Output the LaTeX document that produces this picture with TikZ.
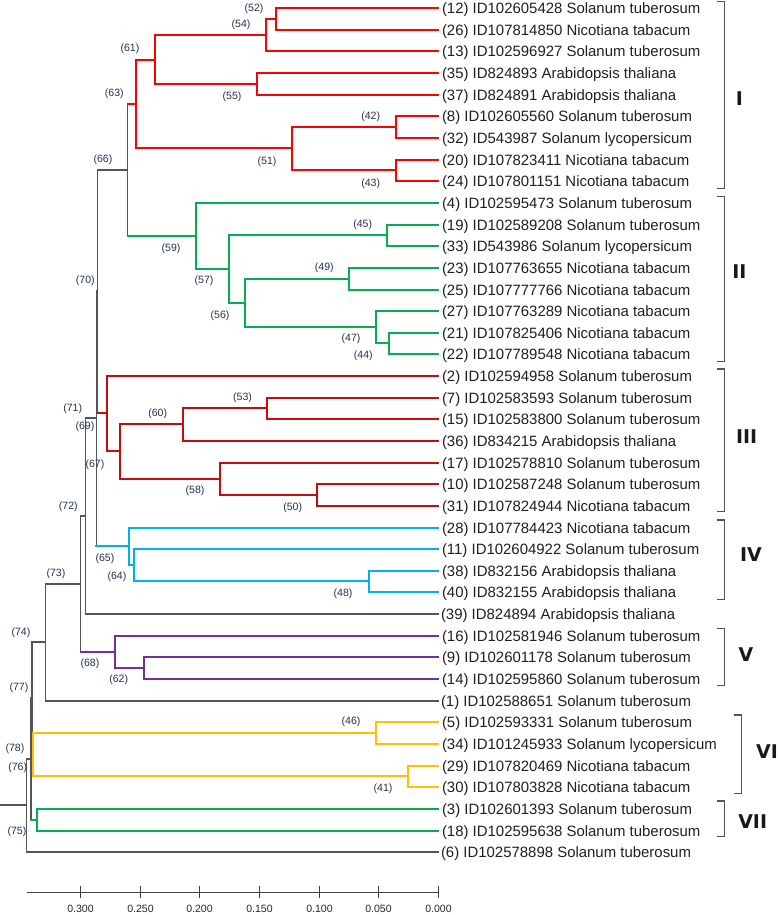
\documentclass[tikz,border=0pt]{standalone}
\usepackage{fontspec}
\setmainfont{Liberation Sans}
\newfontfamily\romfont{DejaVu Sans}
\definecolor{cI}{RGB}{255,0,0}
\definecolor{cIII}{RGB}{200,12,12}
\definecolor{cGreen}{RGB}{0,176,80}
\definecolor{cCyan}{RGB}{0,176,240}
\definecolor{cPurple}{RGB}{112,48,160}
\definecolor{cGold}{RGB}{255,192,0}
\definecolor{cGray}{RGB}{85,85,85}
\definecolor{cLab}{RGB}{35,48,82}
\newcommand\jn[6]{%
  \draw[#4] (#1 |- #2) -- (#1 |- #3);
  \draw[#5] (#1 |- #2) -- (#2);
  \draw[#6] (#1 |- #3) -- (#3);}
\tikzset{
  redline/.style={draw=cI,line width=2bp,line cap=rect},
  dredline/.style={draw=cIII,line width=2bp,line cap=rect},
  greenline/.style={draw=cGreen,line width=2bp,line cap=rect},
  cyanline/.style={draw=cCyan,line width=2bp,line cap=rect},
  purpline/.style={draw=cPurple,line width=2bp,line cap=rect},
  goldline/.style={draw=cGold,line width=2bp,line cap=rect},
  grayline/.style={draw=cGray,line width=1.2bp,line cap=rect},
  leaflab/.style={anchor=base west,inner sep=0pt,text=black!88,font=\fontsize{15}{18}\selectfont},
  nodelab/.style={inner sep=0pt,text=cLab,font=\fontsize{10.6}{12}\selectfont},
  ticklab/.style={inner sep=0pt,text=black!85,font=\fontsize{10.6}{12}\selectfont},
  roman/.style={inner sep=0pt,text=black!90,font=\romfont\bfseries\fontsize{19}{22}\selectfont},
  brk/.style={draw=cGray,line width=1.2bp},
  axisline/.style={draw=black!75,line width=1.2bp}
}
\begin{document}
\begin{tikzpicture}[x=1bp,y=-1bp]
\useasboundingbox (0,0) rectangle (778,915);
% leaf tips
\foreach \i in {0,...,39} {\pgfmathsetmacro\yy{round(8.2+21.64*\i)}\coordinate (t\i) at (438,\yy);}
% internal nodes
\coordinate (n52) at (276,19);
\coordinate (n54) at (266,35);
\coordinate (n55) at (257,84);
\coordinate (n61) at (155,60);
\coordinate (n42) at (396,127);
\coordinate (n43) at (396,170);
\coordinate (n51) at (292,148);
\coordinate (n63) at (136,104);
\coordinate (n45) at (387,235);
\coordinate (n49) at (349,279);
\coordinate (n44) at (389,343);
\coordinate (n47) at (376,327);
\coordinate (n56) at (245,303);
\coordinate (n57) at (229,269);
\coordinate (n59) at (196,236);
\coordinate (n66) at (127.5,170);
\coordinate (n53) at (267,408);
\coordinate (n60) at (183,424);
\coordinate (n50) at (317,495);
\coordinate (n58) at (220,479);
\coordinate (n67) at (120,451);
\coordinate (n69) at (107,413);
\coordinate (n70) at (97.7,291);
\coordinate (n48) at (369,581);
\coordinate (n64) at (134,565);
\coordinate (n65) at (129,546);
\coordinate (n71) at (96.2,418);
\coordinate (n72) at (85.5,516);
\coordinate (n62) at (144,668);
\coordinate (n68) at (115,652);
\coordinate (n73) at (80.5,584);
\coordinate (n74) at (45.5,642);
\coordinate (n46) at (376,733);
\coordinate (n41) at (408,776);
\coordinate (n76) at (33,754);
\coordinate (n77) at (32,698);
\coordinate (n75) at (37,820);
\coordinate (n78) at (31,759);
\coordinate (root) at (26.5,805);
\coordinate (stub) at (0,805);
% cluster I
\jn{n52}{t0}{t1}{redline}{redline}{redline}
\jn{n54}{n52}{t2}{redline}{redline}{redline}
\jn{n55}{t3}{t4}{redline}{redline}{redline}
\jn{n61}{n54}{n55}{redline}{redline}{redline}
\jn{n42}{t5}{t6}{redline}{redline}{redline}
\jn{n43}{t7}{t8}{redline}{redline}{redline}
\jn{n51}{n42}{n43}{redline}{redline}{redline}
\jn{n63}{n61}{n51}{redline}{redline}{redline}
% cluster II
\jn{n45}{t10}{t11}{greenline}{greenline}{greenline}
\jn{n49}{t12}{t13}{greenline}{greenline}{greenline}
\jn{n44}{t15}{t16}{greenline}{greenline}{greenline}
\jn{n47}{t14}{n44}{greenline}{greenline}{greenline}
\jn{n56}{n49}{n47}{greenline}{greenline}{greenline}
\jn{n57}{n45}{n56}{greenline}{greenline}{greenline}
\jn{n59}{t9}{n57}{greenline}{greenline}{greenline}
\jn{n66}{n63}{n59}{grayline}{redline}{greenline}
% cluster III
\jn{n53}{t18}{t19}{dredline}{dredline}{dredline}
\jn{n60}{n53}{t20}{dredline}{dredline}{dredline}
\jn{n50}{t22}{t23}{dredline}{dredline}{dredline}
\jn{n58}{t21}{n50}{dredline}{dredline}{dredline}
\jn{n67}{n60}{n58}{dredline}{dredline}{dredline}
\jn{n69}{t17}{n67}{dredline}{dredline}{dredline}
\jn{n70}{n66}{n69}{grayline}{grayline}{dredline}
% cluster IV
\jn{n48}{t26}{t27}{cyanline}{cyanline}{cyanline}
\jn{n64}{t25}{n48}{cyanline}{cyanline}{cyanline}
\jn{n65}{t24}{n64}{cyanline}{cyanline}{cyanline}
\jn{n71}{n70}{n65}{grayline}{grayline}{cyanline}
\jn{n72}{n71}{t28}{grayline}{grayline}{grayline}
% cluster V
\jn{n62}{t30}{t31}{purpline}{purpline}{purpline}
\jn{n68}{t29}{n62}{purpline}{purpline}{purpline}
\jn{n73}{n72}{n68}{grayline}{grayline}{purpline}
\jn{n74}{n73}{t32}{grayline}{grayline}{grayline}
% cluster VI
\jn{n46}{t33}{t34}{goldline}{goldline}{goldline}
\jn{n41}{t35}{t36}{goldline}{goldline}{goldline}
\jn{n77}{n74}{n76}{grayline}{grayline}{goldline}
\jn{n76}{n46}{n41}{goldline}{goldline}{goldline}
% cluster VII
\jn{n75}{t37}{t38}{greenline}{greenline}{greenline}
\jn{n78}{n77}{n75}{grayline}{grayline}{greenline}
\jn{root}{n78}{t39}{grayline}{grayline}{grayline}
\draw[grayline] (stub) -- (root);
% leaf labels
\node[leaflab] (l0) at ([xshift=3.8bp,yshift=-5.4bp]t0) {(12) ID102605428 Solanum tuberosum};
\node[leaflab] (l1) at ([xshift=3.8bp,yshift=-5.4bp]t1) {(26) ID107814850 Nicotiana tabacum};
\node[leaflab] (l2) at ([xshift=3.8bp,yshift=-5.4bp]t2) {(13) ID102596927 Solanum tuberosum};
\node[leaflab] (l3) at ([xshift=3.8bp,yshift=-5.4bp]t3) {(35) ID824893 Arabidopsis thaliana};
\node[leaflab] (l4) at ([xshift=3.8bp,yshift=-5.4bp]t4) {(37) ID824891 Arabidopsis thaliana};
\node[leaflab] (l5) at ([xshift=3.8bp,yshift=-5.4bp]t5) {(8) ID102605560 Solanum tuberosum};
\node[leaflab] (l6) at ([xshift=3.8bp,yshift=-5.4bp]t6) {(32) ID543987 Solanum lycopersicum};
\node[leaflab] (l7) at ([xshift=3.8bp,yshift=-5.4bp]t7) {(20) ID107823411 Nicotiana tabacum};
\node[leaflab] (l8) at ([xshift=3.8bp,yshift=-5.4bp]t8) {(24) ID107801151 Nicotiana tabacum};
\node[leaflab] (l9) at ([xshift=3.8bp,yshift=-5.4bp]t9) {(4) ID102595473 Solanum tuberosum};
\node[leaflab] (l10) at ([xshift=3.8bp,yshift=-5.4bp]t10) {(19) ID102589208 Solanum tuberosum};
\node[leaflab] (l11) at ([xshift=3.8bp,yshift=-5.4bp]t11) {(33) ID543986 Solanum lycopersicum};
\node[leaflab] (l12) at ([xshift=3.8bp,yshift=-5.4bp]t12) {(23) ID107763655 Nicotiana tabacum};
\node[leaflab] (l13) at ([xshift=3.8bp,yshift=-5.4bp]t13) {(25) ID107777766 Nicotiana tabacum};
\node[leaflab] (l14) at ([xshift=3.8bp,yshift=-5.4bp]t14) {(27) ID107763289 Nicotiana tabacum};
\node[leaflab] (l15) at ([xshift=3.8bp,yshift=-5.4bp]t15) {(21) ID107825406 Nicotiana tabacum};
\node[leaflab] (l16) at ([xshift=3.8bp,yshift=-5.4bp]t16) {(22) ID107789548 Nicotiana tabacum};
\node[leaflab] (l17) at ([xshift=3.8bp,yshift=-5.4bp]t17) {(2) ID102594958 Solanum tuberosum};
\node[leaflab] (l18) at ([xshift=3.8bp,yshift=-5.4bp]t18) {(7) ID102583593 Solanum tuberosum};
\node[leaflab] (l19) at ([xshift=3.8bp,yshift=-5.4bp]t19) {(15) ID102583800 Solanum tuberosum};
\node[leaflab] (l20) at ([xshift=3.8bp,yshift=-5.4bp]t20) {(36) ID834215 Arabidopsis thaliana};
\node[leaflab] (l21) at ([xshift=3.8bp,yshift=-5.4bp]t21) {(17) ID102578810 Solanum tuberosum};
\node[leaflab] (l22) at ([xshift=3.8bp,yshift=-5.4bp]t22) {(10) ID102587248 Solanum tuberosum};
\node[leaflab] (l23) at ([xshift=3.8bp,yshift=-5.4bp]t23) {(31) ID107824944 Nicotiana tabacum};
\node[leaflab] (l24) at ([xshift=3.8bp,yshift=-5.4bp]t24) {(28) ID107784423 Nicotiana tabacum};
\node[leaflab] (l25) at ([xshift=3.8bp,yshift=-5.4bp]t25) {(11) ID102604922 Solanum tuberosum};
\node[leaflab] (l26) at ([xshift=3.8bp,yshift=-5.4bp]t26) {(38) ID832156 Arabidopsis thaliana};
\node[leaflab] (l27) at ([xshift=3.8bp,yshift=-5.4bp]t27) {(40) ID832155 Arabidopsis thaliana};
\node[leaflab] (l28) at ([xshift=2.8bp,yshift=-5.4bp]t28) {(39) ID824894 Arabidopsis thaliana};
\node[leaflab] (l29) at ([xshift=3.8bp,yshift=-5.4bp]t29) {(16) ID102581946 Solanum tuberosum};
\node[leaflab] (l30) at ([xshift=3.8bp,yshift=-5.4bp]t30) {(9) ID102601178 Solanum tuberosum};
\node[leaflab] (l31) at ([xshift=3.8bp,yshift=-5.4bp]t31) {(14) ID102595860 Solanum tuberosum};
\node[leaflab] (l32) at ([xshift=2.8bp,yshift=-5.4bp]t32) {(1) ID102588651 Solanum tuberosum};
\node[leaflab] (l33) at ([xshift=3.8bp,yshift=-5.4bp]t33) {(5) ID102593331 Solanum tuberosum};
\node[leaflab] (l34) at ([xshift=3.8bp,yshift=-5.4bp]t34) {(34) ID101245933 Solanum lycopersicum};
\node[leaflab] (l35) at ([xshift=3.8bp,yshift=-5.4bp]t35) {(29) ID107820469 Nicotiana tabacum};
\node[leaflab] (l36) at ([xshift=3.8bp,yshift=-5.4bp]t36) {(30) ID107803828 Nicotiana tabacum};
\node[leaflab] (l37) at ([xshift=3.8bp,yshift=-5.4bp]t37) {(3) ID102601393 Solanum tuberosum};
\node[leaflab] (l38) at ([xshift=3.8bp,yshift=-5.4bp]t38) {(18) ID102595638 Solanum tuberosum};
\node[leaflab] (l39) at ([xshift=2.8bp,yshift=-5.4bp]t39) {(6) ID102578898 Solanum tuberosum};
% node labels
\node[nodelab] (L52) at (254,8.5) {(52)};
\node[nodelab] (L54) at (241,25) {(54)};
\node[nodelab] (L61) at (130,49) {(61)};
\node[nodelab] (L63) at (114.3,93.3) {(63)};
\node[nodelab] (L55) at (232,97) {(55)};
\node[nodelab] (L42) at (370.7,116.7) {(42)};
\node[nodelab] (L66) at (103,160) {(66)};
\node[nodelab] (L51) at (267,162) {(51)};
\node[nodelab] (L43) at (370.7,183.3) {(43)};
\node[nodelab] (L45) at (362.7,224.3) {(45)};
\node[nodelab] (L59) at (171,248.3) {(59)};
\node[nodelab] (L49) at (324.3,267.7) {(49)};
\node[nodelab] (L57) at (204,281) {(57)};
\node[nodelab] (L70) at (85.3,281) {(70)};
\node[nodelab] (L56) at (220,315.7) {(56)};
\node[nodelab] (L47) at (351,339) {(47)};
\node[nodelab] (L44) at (363.3,356) {(44)};
\node[nodelab] (L53) at (242.5,397.5) {(53)};
\node[nodelab] (L71) at (72.7,409) {(71)};
\node[nodelab] (L60) at (157.7,414) {(60)};
\node[nodelab] (L69) at (85,426.7) {(69)};
\node[nodelab] (L67) at (95,464.3) {(67)};
\node[nodelab] (L58) at (195,491) {(58)};
\node[nodelab] (L72) at (68.3,506.7) {(72)};
\node[nodelab] (L50) at (292.7,507.7) {(50)};
\node[nodelab] (L65) at (105,558.3) {(65)};
\node[nodelab] (L73) at (56,574) {(73)};
\node[nodelab] (L64) at (117,576.7) {(64)};
\node[nodelab] (L48) at (343,594) {(48)};
\node[nodelab] (L74) at (21,632.3) {(74)};
\node[nodelab] (L68) at (90,663.5) {(68)};
\node[nodelab] (L62) at (118.7,680) {(62)};
\node[nodelab] (L77) at (19,687.7) {(77)};
\node[nodelab] (L46) at (351,721.7) {(46)};
\node[nodelab] (L78) at (15,748.3) {(78)};
\node[nodelab] (L76) at (17.7,767.3) {(76)};
\node[nodelab] (L41) at (383,788.3) {(41)};
\node[nodelab] (L75) at (17,831.7) {(75)};
% brackets
\draw[brk] (716.7,1.7) -- (724.3,1.7) -- (724.3,188.3) -- (716.7,188.3);
\draw[brk] (716.7,196.7) -- (724.3,196.7) -- (724.3,361.7) -- (716.7,361.7);
\draw[brk] (716.7,369) -- (724.3,369) -- (724.3,511.7) -- (716.7,511.7);
\draw[brk] (716.7,520) -- (724.3,520) -- (724.3,599.3) -- (716.7,599.3);
\draw[brk] (716.7,628.3) -- (724.3,628.3) -- (724.3,685.7) -- (716.7,685.7);
\draw[brk] (734,715) -- (741.7,715) -- (741.7,793.3) -- (734,793.3);
\draw[brk] (716.7,801) -- (724.3,801) -- (724.3,836.7) -- (716.7,836.7);
\node[roman] (rI) at (739.3,98.3) {I};
\node[roman] (rII) at (739.3,271.7) {II};
\node[roman] (rIII) at (746.7,436.7) {III};
\node[roman] (rIV) at (751,555) {IV};
\node[roman] (rV) at (746,655) {V};
\node[roman] (rVI) at (767,751.7) {VI};
\node[roman] (rVII) at (752.7,821.7) {VII};
% axis
\coordinate (ax0) at (26.7,892.5);
\coordinate (ax1) at (438.5,892.5);
\draw[axisline] (ax0) -- (ax1);
\foreach \k/\xx/\lab in {0/438.5/0.000,1/378.5/0.050,2/319.5/0.100,3/259.5/0.150,4/199.5/0.200,5/140.5/0.250,6/80.5/0.300} {
  \draw[axisline] (\xx,885.5) -- (\xx,897.5);
  \node[ticklab] (tk\k) at (\xx,908.5) {\lab};
}
\end{tikzpicture}
\end{document}
